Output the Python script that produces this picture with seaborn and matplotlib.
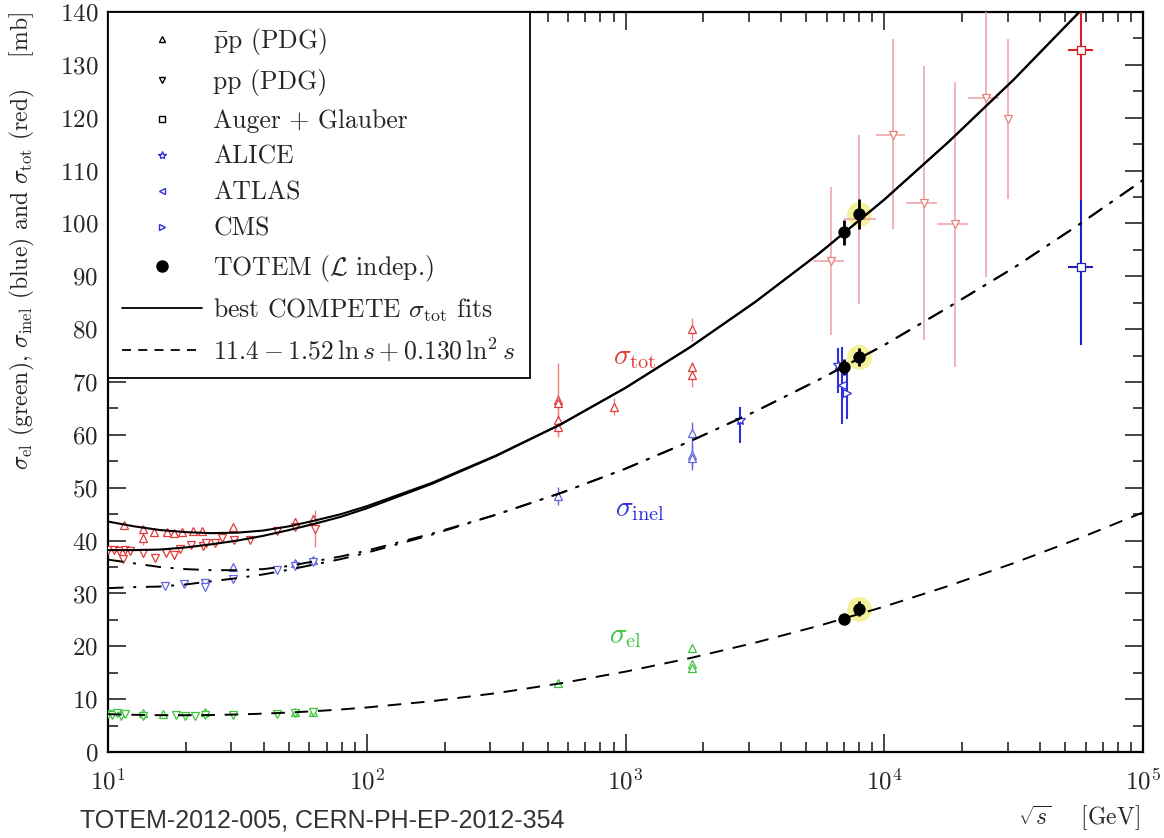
import numpy as np
import pandas as pd
import seaborn as sns
import matplotlib.pyplot as plt
from matplotlib.lines import Line2D

sns.set_style('ticks')
plt.rcParams['font.family'] = ['cmr10', 'DejaVu Serif']
plt.rcParams['mathtext.fontset'] = 'cm'
plt.rcParams['axes.formatter.use_mathtext'] = True
plt.rcParams['axes.unicode_minus'] = False

RED = '#e23a3a'
PALE_RED = '#f0a0a0'
BLUE = '#3030d8'
PALE_BLUE = '#6464e0'
GREEN = '#3cc43c'

# --- fit curves, sqrt(s) in GeV ---
curve_E = [10, 12.59, 15.85, 19.95, 25.12, 31.62, 39.81, 50.12, 63.10, 79.43, 100,
           178, 316, 562, 1000, 1778, 3162, 5623, 10000, 17783, 31623, 56234, 100000]
tot_pp_fit = [38.2, 38.2, 38.3, 38.7, 39.3, 40.0, 40.9, 42.0, 43.2, 44.5, 46.1,
              50.7, 56.0, 62.0, 68.9, 76.6, 85.1, 94.4, 104.5, 115.5, 127.2, 139.8, 153.2]
tot_pbarp_fit = [43.6, 42.7, 42.0, 41.6, 41.4, 41.5, 41.9, 42.7, 43.8, 45.0, 46.5,
                 50.9, 56.1, 62.0, 68.9, 76.6, 85.1, 94.4, 104.5, 115.5, 127.2, 139.8, 153.2]
inel_pp_fit = [31.0, 31.2, 31.3, 31.7, 32.3, 32.9, 33.6, 34.5, 35.5, 36.5, 37.7,
               41.1, 44.9, 49.0, 53.6, 58.8, 64.4, 70.5, 77.0, 84.2, 91.6, 99.7, 108.2]
inel_pbarp_fit = [36.4, 35.7, 35.0, 34.6, 34.4, 34.4, 34.6, 35.2, 36.1, 37.0, 38.1,
                  41.3, 44.9, 49.0, 53.6, 58.8, 64.4, 70.5, 77.0, 84.2, 91.6, 99.7, 108.2]
el_fit = [7.16, 7.04, 6.97, 6.96, 7.00, 7.10, 7.26, 7.47, 7.73, 8.05, 8.43,
          9.61, 11.13, 13.0, 15.21, 17.77, 20.67, 23.92, 27.51, 31.45, 35.73, 40.36, 45.33]

# --- sigma_tot data ---
tot_pbarp_E = [11.5, 13.7, 13.7, 15.0, 16.9, 18.0, 19.4, 21.3, 23.0, 30.5, 52.8, 62.2,
               546, 546, 546, 546, 900, 1800, 1800, 1800]
tot_pbarp = [42.9, 42.1, 40.4, 41.7, 41.7, 41.5, 41.7, 41.8, 41.8, 42.6, 43.6, 44.0,
             66.6, 66.0, 62.8, 61.5, 65.3, 80.0, 72.8, 71.4]
tot_pbarp_err = [0.5, 0.6, 1.2, 0.5, 0.5, 0.5, 0.5, 0.5, 0.5, 0.6, 0.7, 1.0,
                 7.0, 1.5, 1.5, 1.5, 1.6, 2.2, 1.0, 2.4]

tot_pp_E = [10.0, 10.5, 11.0, 11.6, 12.2, 11.4, 13.6, 15.2, 16.7, 18.0, 19.0, 21.0,
            23.3, 24.0, 25.9, 27.5, 30.8, 35.4, 44.9, 52.8, 63.0]
tot_pp = [38.2, 38.2, 38.0, 38.3, 38.1, 36.5, 37.6, 36.7, 37.6, 37.2, 38.4, 39.2,
          38.9, 39.5, 39.6, 40.4, 40.1, 40.2, 41.9, 42.5, 42.2]
tot_pp_err = [0.4, 0.4, 0.4, 0.4, 0.4, 0.6, 0.8, 0.8, 0.6, 0.6, 0.5, 0.5,
              0.6, 0.8, 0.5, 0.5, 0.5, 0.5, 0.6, 0.6, 3.5]

cosmic_E = [6210, 8000, 10800, 14260, 18750, 24700, 30060]
cosmic_tot = [92.8, 100.8, 116.7, 103.8, 99.9, 123.7, 119.7]
cosmic_err_lo = [13.9, 16.1, 17.8, 25.9, 27.0, 33.8, 15.0]
cosmic_err_hi = [14.1, 15.9, 18.1, 26.0, 26.9, 30.0, 15.1]
cosmic_xerr_lo = [900, 1000, 1540, 2130, 2790, 3610, 0]
cosmic_xerr_hi = [790, 1260, 1250, 1700, 2340, 3030, 0]

auger_E = [57500]
auger_tot = [132.8]
auger_inel = [91.8]

totem_E = [7000, 8000]
totem_tot = [98.3, 101.8]
totem_tot_err = [2.3, 2.9]
totem_inel = [72.9, 74.7]
totem_inel_err = [1.5, 1.7]
totem_el = [25.1, 27.1]
totem_el_err = [0.9, 1.4]

# --- sigma_inel data ---
inel_pbarp_E = [30.3, 52.8, 62.2, 546, 1800, 1800, 1800]
inel_pbarp = [35.0, 35.7, 36.3, 48.4, 60.3, 56.2, 55.6]
inel_pbarp_err = [0.5, 0.5, 0.6, 1.7, 2.2, 2.0, 2.2]
inel_pp_E = [16.6, 19.7, 23.7, 23.7, 30.5, 44.9, 52.8, 62.2]
inel_pp = [31.4, 31.8, 32.0, 31.3, 32.7, 34.4, 35.2, 36.0]
alice_E = [2760, 6600]
alice_inel = [62.8, 73.2]
alice_lo = [4.4, 5.3]
alice_hi = [2.5, 3.3]
atlas_E = [6850]
atlas_inel = [69.4]
cms_E = [7160]
cms_inel = [68.0]

# --- sigma_el data ---
el_pbarp_E = [13.7, 16.3, 23.7, 52.8, 62.2, 546, 1800, 1800, 1800]
el_pbarp = [7.3, 7.2, 7.5, 7.6, 7.6, 13.0, 19.7, 16.7, 15.9]
el_pp_E = [10.0, 10.4, 10.8, 11.2, 11.6, 13.7, 18.3, 19.8, 21.7, 23.7, 30.5, 44.9, 52.8, 62.2]
el_pp = [7.2, 7.0, 7.3, 6.9, 7.1, 6.9, 7.0, 6.9, 6.8, 7.0, 7.0, 7.2, 7.4, 7.5]

fig = plt.figure(figsize=(11.64, 8.38), dpi=100)
ax = fig.add_axes([0.0928, 0.1026, 0.8892, 0.8831])
ax.set_xscale('log')

fits = pd.DataFrame({'E': curve_E, 'tot_pp': tot_pp_fit, 'tot_pbarp': tot_pbarp_fit,
                     'inel_pp': inel_pp_fit, 'inel_pbarp': inel_pbarp_fit, 'el': el_fit})
for col in ['tot_pp', 'tot_pbarp']:
    sns.lineplot(data=fits, x='E', y=col, ax=ax, color='black', lw=1.5, zorder=4)
for col in ['inel_pp', 'inel_pbarp']:
    sns.lineplot(data=fits, x='E', y=col, ax=ax, color='black', lw=1.4,
                 linestyle=(0, (8, 5, 1.5, 5)), zorder=4)
sns.lineplot(data=fits, x='E', y='el', ax=ax, color='black', lw=1.4,
             linestyle=(0, (7, 5)), zorder=4)


def pts(E, s, yerr, marker, color, ms=6, xerr=None, ecolor=None, mfc='white', elw=1.0, z=3):
    ax.errorbar(E, s, yerr=yerr, xerr=xerr, fmt=marker, color=color, mfc=mfc, mec=color,
                ms=ms, mew=0.9, ecolor=ecolor or color, elinewidth=elw, capsize=0, zorder=z)


# yellow highlight of the 8 TeV TOTEM points
ax.scatter([totem_E[1]] * 3, [totem_tot[1], totem_inel[1], totem_el[1]], s=320,
           color='#f3ef8c', alpha=0.85, zorder=2, linewidths=0)

# total
pts(tot_pbarp_E, tot_pbarp, tot_pbarp_err, '^', RED, ecolor='#ec8080')
pts(tot_pp_E, tot_pp, tot_pp_err, 'v', RED, ecolor='#ec8080')
pts(cosmic_E, cosmic_tot, [cosmic_err_lo, cosmic_err_hi], 'v', '#e88080', ms=6,
    xerr=[cosmic_xerr_lo, cosmic_xerr_hi], ecolor=PALE_RED, elw=1.1)
pts(auger_E, auger_tot, [[28.4], [30.0]], 's', '#d82020', ms=6, xerr=[[6200], [6600]], elw=1.5)
pts(totem_E, totem_tot, totem_tot_err, 'o', 'black', ms=8, mfc='black', elw=2.0, z=5)

# inelastic
pts(inel_pbarp_E, inel_pbarp, inel_pbarp_err, '^', PALE_BLUE)
pts(inel_pp_E, inel_pp, 0.4, 'v', PALE_BLUE)
pts(alice_E, alice_inel, [alice_lo, alice_hi], '*', BLUE, ms=7, elw=1.5)
pts(atlas_E, atlas_inel, 7.3, '<', BLUE, elw=1.5)
pts(cms_E, cms_inel, 5.0, '>', BLUE, elw=1.5)
pts(auger_E, auger_inel, [[14.8], [12.6]], 's', '#2020c0', ms=6, xerr=[[6200], [6600]], elw=1.5)
pts(totem_E, totem_inel, totem_inel_err, 'o', 'black', ms=8, mfc='black', elw=2.0, z=5)

# elastic
pts(el_pbarp_E, el_pbarp, 0.3, '^', GREEN)
pts(el_pp_E, el_pp, 0.3, 'v', GREEN)
pts(totem_E, totem_el, totem_el_err, 'o', 'black', ms=8, mfc='black', elw=2.0, z=5)

ax.text(1089, 74.5, r'$\sigma_{\rm tot}$', color=RED, fontsize=21, ha='center', va='center')
ax.text(1137, 45.8, r'$\sigma_{\rm inel}$', color=BLUE, fontsize=21, ha='center', va='center')
ax.text(995, 21.8, r'$\sigma_{\rm el}$', color=GREEN, fontsize=21, ha='center', va='center')

ax.set_xlim(10, 1e5)
ax.set_ylim(0, 140)
ax.set_yticks(np.arange(0, 141, 10))
ax.set_yticks(np.arange(0, 141, 5), minor=True)
ax.set_xlabel('')
ax.set_ylabel('')
ax.tick_params(which='both', direction='in', top=True, right=True, width=1.2)
ax.tick_params(which='major', length=13, labelsize=18)
ax.tick_params(which='minor', length=7)
ax.tick_params(axis='x', which='major', pad=12)
ax.tick_params(axis='y', which='major', pad=7)
for sp in ax.spines.values():
    sp.set_linewidth(1.6)
    sp.set_color('black')

handles = [
    Line2D([], [], marker='^', ls='none', color='black', mfc='white', ms=5),
    Line2D([], [], marker='v', ls='none', color='black', mfc='white', ms=5),
    Line2D([], [], marker='s', ls='none', color='black', mfc='white', ms=5),
    Line2D([], [], marker='*', ls='none', color=BLUE, mfc='white', ms=6),
    Line2D([], [], marker='<', ls='none', color=BLUE, mfc='white', ms=5),
    Line2D([], [], marker='>', ls='none', color=BLUE, mfc='white', ms=5),
    Line2D([], [], marker='o', ls='none', color='black', ms=8),
    Line2D([], [], color='black', lw=1.3),
    Line2D([], [], color='black', lw=1.3, linestyle=(0, (5, 4))),
]
labels = [r'$\bar{\rm p}{\rm p}$ (PDG)', 'pp (PDG)', 'Auger + Glauber', 'ALICE', 'ATLAS', 'CMS',
          r'TOTEM ($\mathcal{L}$ indep.)', r'best COMPETE $\sigma_{\rm tot}$ fits',
          r'$11.4 - 1.52\,\ln s + 0.130\,\ln^2 s$']
leg = ax.legend(handles, labels, loc='upper left', bbox_to_anchor=(0, 1), borderaxespad=0,
                fontsize=18.5, frameon=True, fancybox=False, framealpha=1, edgecolor='black',
                handlelength=3.1, handletextpad=0.45, labelspacing=0.48, borderpad=0.55)
leg.get_frame().set_linewidth(1.3)
leg.set_zorder(6)

fig.text(0.019, 1 - 12 / 838, r'$\sigma_{\rm el}$ (green), $\sigma_{\rm inel}$ (blue) and '
         r'$\sigma_{\rm tot}$ (red)    [mb]', rotation=90, va='top', ha='center', fontsize=17)
fig.text(1140 / 1164, 1 - 818 / 838, r'$\sqrt{s}$    [GeV]', ha='right', va='center', fontsize=17)
fig.text(80 / 1164, 1 - 820 / 838, 'TOTEM-2012-005, CERN-PH-EP-2012-354',
         family='Liberation Sans', fontsize=18, color='#333333', va='center')

fig.savefig('out.png', dpi=100)
